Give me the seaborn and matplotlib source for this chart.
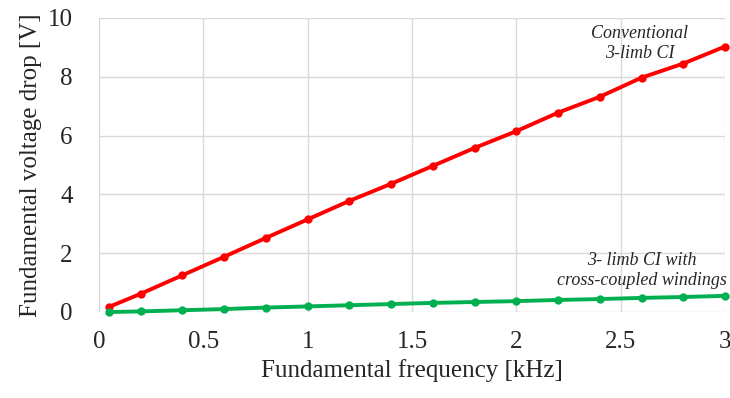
import numpy as np
import pandas as pd
import matplotlib
matplotlib.use('Agg')
import matplotlib.pyplot as plt
import seaborn as sns

freq_khz = [0.05, 0.2, 0.4, 0.6, 0.8, 1.0, 1.2, 1.4, 1.6, 1.8, 2.0, 2.2, 2.4, 2.6, 2.8, 3.0]
conventional = [0.18, 0.62, 1.25, 1.88, 2.52, 3.15, 3.78, 4.36, 4.97, 5.58, 6.15, 6.78, 7.32, 7.97, 8.45, 9.03]
cross_coupled = [0.0, 0.02, 0.06, 0.10, 0.15, 0.19, 0.23, 0.27, 0.31, 0.34, 0.37, 0.41, 0.44, 0.48, 0.51, 0.55]

x_ticks = [0, 0.5, 1, 1.5, 2, 2.5, 3]
x_tick_labels = ['0', '0.5', '1', '1.5', '2', '2.5', '3']
y_ticks = [0, 2, 4, 6, 8, 10]

df = pd.DataFrame({
    'freq': freq_khz * 2,
    'drop': conventional + cross_coupled,
    'series': ['conv'] * len(freq_khz) + ['cross'] * len(freq_khz),
})

sns.set_style('white')
plt.rcParams['font.family'] = ['Liberation Serif', 'DejaVu Serif']

fig = plt.figure(figsize=(7.3, 3.98), dpi=100)
ax = fig.add_axes([99 / 730, 1 - 312 / 398, 626 / 730, 294 / 398])

palette = {'conv': '#ff0000', 'cross': '#00b050'}
sns.lineplot(data=df, x='freq', y='drop', hue='series', palette=palette,
             marker='o', markersize=6, markeredgewidth=0, linewidth=2.8,
             legend=False, ax=ax, zorder=3, clip_on=False)

ax.set_xlim(0, 3)
ax.set_ylim(0, 10)
ax.set_xticks(x_ticks)
ax.set_xticklabels(x_tick_labels)
ax.set_yticks(y_ticks)
ax.grid(True, color='#d9d9d9', linewidth=1)
ax.set_axisbelow(True)
for s in ax.spines.values():
    s.set_visible(False)
ax.tick_params(axis='x', length=0, labelsize=18, pad=14)
ax.tick_params(axis='y', length=0, labelsize=18, pad=19)

ax.set_xlabel('Fundamental frequency [kHz]', fontsize=18, labelpad=4)
ax.set_ylabel('Fundamental voltage drop [V]', fontsize=18, labelpad=4)

ax.text(2.59, 9.13, 'Conventional\n3-limb CI', ha='center', va='center',
        fontsize=13, style='italic', linespacing=1.25)
ax.text(2.6, 1.4, '3- limb CI with\ncross-coupled windings', ha='center', va='center',
        fontsize=13, style='italic', linespacing=1.25)

fig.savefig('out.png', dpi=100)
